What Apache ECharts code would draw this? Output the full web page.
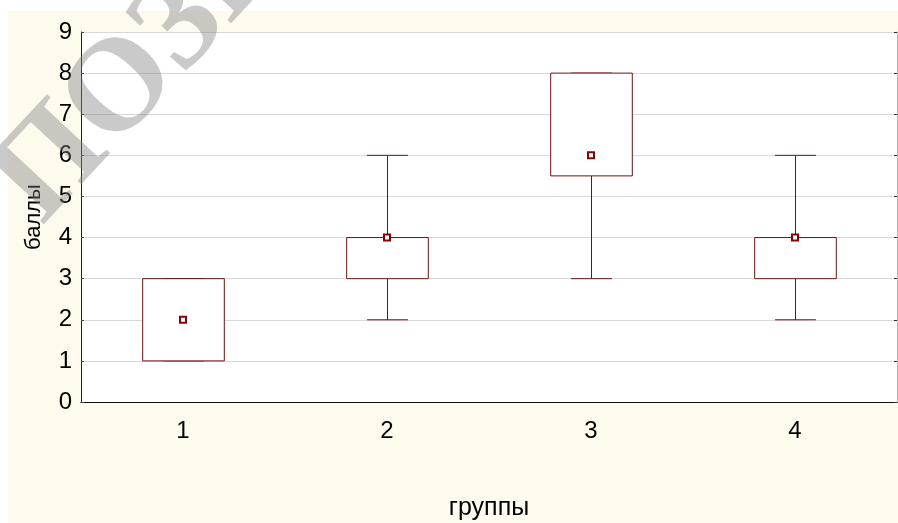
<!DOCTYPE html>
<html>
<head>
<meta charset="utf-8">
<script src="https://cdn.jsdelivr.net/npm/echarts@6/dist/echarts.min.js"></script>
<style>html,body{margin:0;padding:0;background:#fff}#c{width:898px;height:523px}</style>
</head>
<body>
<div id="c"></div>
<script>
var categories = ['1', '2', '3', '4'];
var mins    = [1, 2, 3, 2];
var q1s     = [1, 3, 5.5, 3];
var medians = [2, 4, 6, 4];
var q3s     = [3, 4, 8, 4];
var maxs    = [3, 6, 8, 6];
var yTicks  = [0, 1, 2, 3, 4, 5, 6, 7, 8, 9];

var boxData = categories.map(function (c, i) {
  return [i, mins[i], q1s[i], medians[i], q3s[i], maxs[i]];
});
var medData = categories.map(function (c, i) { return [i, medians[i]]; });

var LINE = '#6e1010';
var FONT = 'Liberation Sans, Arial, sans-serif';

function renderBox(params, api) {
  var x = api.value(0);
  var pMin = api.coord([x, api.value(1)]);
  var pQ1 = api.coord([x, api.value(2)]);
  var pQ3 = api.coord([x, api.value(4)]);
  var pMax = api.coord([x, api.value(5)]);
  var band = api.size([1, 0])[0];
  var hw = band * 0.2;
  var cw = band * 0.1;
  var cx = Math.round(pQ1[0]) + 0.5;
  var st = { stroke: LINE, lineWidth: 1, fill: null };
  var ch = [];
  ch.push({ type: 'line', shape: { x1: cx, y1: pQ3[1], x2: cx, y2: pMax[1] }, style: st });
  ch.push({ type: 'line', shape: { x1: cx, y1: pQ1[1], x2: cx, y2: pMin[1] }, style: st });
  ch.push({ type: 'line', shape: { x1: cx - cw, y1: pMax[1], x2: cx + cw, y2: pMax[1] }, style: st });
  ch.push({ type: 'line', shape: { x1: cx - cw, y1: pMin[1], x2: cx + cw, y2: pMin[1] }, style: st });
  ch.push({ type: 'rect', shape: { x: cx - hw, y: pQ3[1], width: 2 * hw, height: pQ1[1] - pQ3[1] },
            style: { stroke: LINE, lineWidth: 1, fill: '#fff' } });
  return { type: 'group', children: ch };
}

var chart = echarts.init(document.getElementById('c'), null, { renderer: 'canvas' });
chart.setOption({
  backgroundColor: '#fff',
  animation: false,
  graphic: [
    { type: 'rect', z: -10, silent: true, shape: { x: 8, y: 11, width: 890, height: 512 }, style: { fill: '#fefaee' } },
    { type: 'text', x: 17, y: 203, rotation: 47 * Math.PI / 180, z: 100, silent: true,
      style: { text: 'ПОЗНА', fill: 'rgba(128,128,128,0.42)',
               font: 'bold 132px "Liberation Serif", "Times New Roman", serif',
               textAlign: 'left', textVerticalAlign: 'middle' } }
  ],
  grid: { left: 81, top: 32, right: 1, bottom: 121, show: true, backgroundColor: '#fff', borderWidth: 0,
          containLabel: false, outerBoundsMode: 'none' },
  xAxis: [
    {
      type: 'category', data: categories, position: 'bottom',
      name: 'группы', nameLocation: 'middle', nameGap: 94,
      nameTextStyle: { fontFamily: FONT, fontSize: 25, color: '#000' },
      axisLine: { lineStyle: { color: '#222', width: 1 } },
      axisTick: { inside: true, length: 3, alignWithLabel: true, lineStyle: { color: '#444' } },
      axisLabel: { fontFamily: FONT, fontSize: 24, color: '#000', margin: 17 },
      splitLine: { show: false }
    },
    {
      type: 'category', data: categories, position: 'top',
      axisLine: { lineStyle: { color: '#111', width: 1 } },
      axisTick: { inside: true, length: 3, alignWithLabel: true, lineStyle: { color: '#444' } },
      axisLabel: { show: false }, splitLine: { show: false }
    }
  ],
  yAxis: [
    {
      type: 'value', min: 0, max: 9, interval: 1, position: 'left',
      name: 'баллы', nameLocation: 'middle', nameGap: 36,
      nameTextStyle: { fontFamily: FONT, fontSize: 22, color: '#000' },
      axisLine: { show: true, lineStyle: { color: '#222' } },
      axisTick: { show: true, inside: true, length: 3, lineStyle: { color: '#444' } },
      axisLabel: { fontFamily: FONT, fontSize: 24, color: '#000', margin: 9,
                   formatter: function (v) { return yTicks.indexOf(v) >= 0 ? String(v) : ''; } },
      splitLine: { show: true, lineStyle: { color: '#d8d8d8', width: 1 } }
    },
    {
      type: 'value', min: 0, max: 9, interval: 1, position: 'right',
      axisLine: { show: true, lineStyle: { color: '#b0b0b0' } },
      axisTick: { show: true, inside: true, length: 3, lineStyle: { color: '#333' } },
      axisLabel: { show: false }, splitLine: { show: false }
    }
  ],
  series: [
    {
      type: 'custom', xAxisIndex: 0, yAxisIndex: 0, renderItem: renderBox,
      encode: { x: 0, y: [1, 2, 3, 4, 5] }, data: boxData, z: 3
    },
    {
      type: 'scatter', xAxisIndex: 0, yAxisIndex: 0, data: medData, symbol: 'rect', symbolSize: 6,
      itemStyle: { color: '#fff', borderColor: '#8b0000', borderWidth: 2, opacity: 1 }, z: 5
    }
  ]
});
</script>
</body>
</html>
